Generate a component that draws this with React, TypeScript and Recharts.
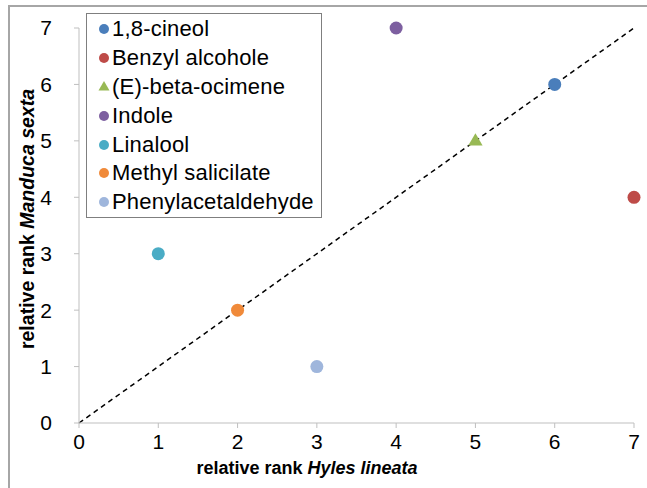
import { ScatterChart, Scatter, XAxis, YAxis, ReferenceLine, Legend } from 'recharts';

const compounds = [
  '1,8-cineol',
  'Benzyl alcohole',
  '(E)-beta-ocimene',
  'Indole',
  'Linalool',
  'Methyl salicilate',
  'Phenylacetaldehyde',
];
const hylesRank = [6, 7, 5, 4, 1, 2, 3];
const manducaRank = [6, 4, 5, 7, 3, 2, 1];
const markerColors = ['#4A7EBB', '#BE4B48', '#98B954', '#7D5FA0', '#4AACC5', '#F08A3A', '#9FB6DC'];
const markerShapes = ['circle', 'circle', 'triangle', 'circle', 'circle', 'circle', 'circle'];
const rankTicks = [0, 1, 2, 3, 4, 5, 6, 7];
const diagonal = [{ x: 0, y: 0 }, { x: 7, y: 7 }];

const FONT = "'Liberation Sans', Arial, sans-serif";

function Marker({ cx, cy, shape, color, r }: { cx: number; cy: number; shape: string; color: string; r: number }) {
  if (shape === 'triangle') {
    const h = r * 1.9;
    return (
      <polygon
        points={`${cx},${cy - h * 0.62} ${cx + h * 0.58},${cy + h * 0.38} ${cx - h * 0.58},${cy + h * 0.38}`}
        fill={color}
      />
    );
  }
  return <circle cx={cx} cy={cy} r={r} fill={color} />;
}

function LegendBox() {
  return (
    <div
      style={{
        width: 236,
        height: 205,
        border: '1px solid #7f7f7f',
        background: '#fff',
        boxSizing: 'border-box',
        paddingTop: 1,
        fontFamily: FONT,
        fontSize: 22,
        letterSpacing: 0.2,
        color: '#000',
      }}
    >
      {compounds.map((name, i) => (
        <div key={name} style={{ height: 28.8, display: 'flex', alignItems: 'center', whiteSpace: 'nowrap' }}>
          <svg width={25} height={20} style={{ flex: 'none' }}>
            <Marker cx={17} cy={10} r={5} shape={markerShapes[i]} color={markerColors[i]} />
          </svg>
          <span>{name}</span>
        </div>
      ))}
    </div>
  );
}

export default function App() {
  return (
    <div style={{ position: 'absolute', left: 0, top: 0, width: 647, height: 488, background: '#fff', overflow: 'hidden' }}>
      <div
        style={{
          position: 'absolute',
          left: 8,
          top: 5,
          width: 700,
          height: 600,
          borderLeft: '2px solid #a6a6a6',
          borderTop: '2px solid #a6a6a6',
        }}
      />
      <ScatterChart
        width={647}
        height={488}
        margin={{ top: 28, right: 13, left: 0, bottom: 0 }}
        style={{ position: 'absolute', left: 0, top: 0 }}
      >
        <XAxis
          type="number"
          dataKey="x"
          domain={[0, 7]}
          ticks={rankTicks}
          height={65}
          stroke="#bfbfbf"
          tickSize={5}
          tickMargin={6}
          tick={{ fill: '#000', fontSize: 21, fontFamily: FONT }}
          label={{
            content: () => (
              <text x={307} y={468} textAnchor="middle" dominantBaseline="central" fontFamily={FONT} fontSize={18} fontWeight="bold" fill="#000">
                relative rank <tspan fontStyle="italic">Hyles lineata</tspan>
              </text>
            ),
          }}
        />
        <YAxis
          type="number"
          dataKey="y"
          domain={[0, 7]}
          ticks={rankTicks}
          width={79}
          stroke="#bfbfbf"
          tickSize={5}
          tickMargin={22}
          tick={{ fill: '#000', fontSize: 21, fontFamily: FONT }}
          label={{
            content: () => (
              <text
                x={27}
                y={219}
                transform="rotate(-90 27 219)"
                textAnchor="middle"
                dominantBaseline="central"
                fontFamily={FONT}
                fontSize={19.5}
                fontWeight="bold"
                fill="#000"
              >
                relative rank <tspan fontStyle="italic">Manduca sexta</tspan>
              </text>
            ),
          }}
        />
        <ReferenceLine
          segment={diagonal}
          stroke="#000"
          strokeWidth={1.5}
          strokeDasharray="5 4"
          ifOverflow="visible"
        />
        {compounds.map((name, i) => (
          <Scatter
            key={name}
            name={name}
            data={[{ x: hylesRank[i], y: manducaRank[i] }]}
            fill={markerColors[i]}
            isAnimationActive={false}
            shape={(p: any) => <Marker cx={p.cx} cy={p.cy} r={6.5} shape={markerShapes[i]} color={markerColors[i]} />}
          />
        ))}
        <Legend
          layout="vertical"
          align="center"
          verticalAlign="middle"
          content={() => <LegendBox />}
          wrapperStyle={{ position: 'absolute', left: 86, top: 13, width: 236, height: 205 }}
        />
      </ScatterChart>
    </div>
  );
}
